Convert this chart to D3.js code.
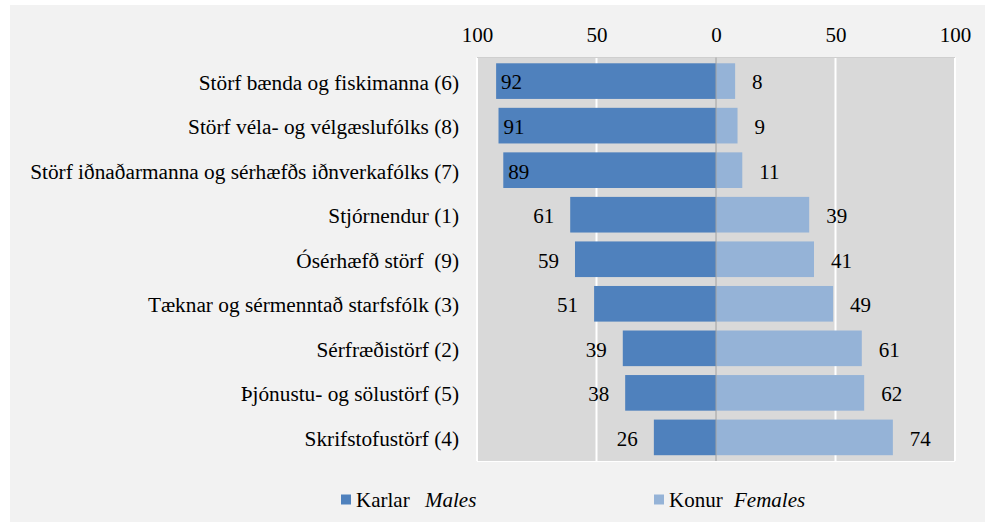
<!DOCTYPE html>
<html>
<head>
<meta charset="utf-8">
<script src="https://cdn.jsdelivr.net/npm/d3@7"></script>
<style>
  body { margin: 0; background: #fff; }
  svg { display: block; }
  svg text { font-family: 'Liberation Serif', 'Times New Roman', serif; fill: #000; white-space: pre; }
</style>
</head>
<body>
<main></main>
<script>
const categories = [
    'Störf bænda og fiskimanna (6)',
    'Störf véla- og vélgæslufólks (8)',
    'Störf iðnaðarmanna og sérhæfðs iðnverkafólks (7)',
    'Stjórnendur (1)',
    'Ósérhæfð störf  (9)',
    'Tæknar og sérmenntað starfsfólk (3)',
    'Sérfræðistörf (2)',
    'Þjónustu- og sölustörf (5)',
    'Skrifstofustörf (4)'
];
const males = [92, 91, 89, 61, 59, 51, 39, 38, 26];
const females = [8, 9, 11, 39, 41, 49, 61, 62, 74];
const ticks = [-100, -50, 0, 50, 100];

const w = 989;
const h = 524;
const plotLeft = 477, plotRight = 955, plotTop = 57.5, plotBottom = 461;
const maleColor = '#4f81bd';
const femaleColor = '#95b3d7';

const svg = d3.select('main').append('svg').attr('width', w).attr('height', h);

svg.append('rect')
    .attr('x', 10).attr('y', 5)
    .attr('width', 975).attr('height', 517)
    .attr('fill', '#f2f2f2');

const xScale = d3.scaleLinear().domain([-100, 100]).range([plotLeft, plotRight]);
const yScale = d3.scaleBand().domain(categories).range([plotTop, plotBottom]).paddingInner(0.2).paddingOuter(0.13);

svg.append('rect')
    .attr('x', plotLeft).attr('y', plotTop)
    .attr('width', plotRight - plotLeft).attr('height', plotBottom - plotTop)
    .attr('fill', '#d9d9d9');

// gridlines
svg.append('g').selectAll('line').data(ticks.filter(t => t !== 0)).enter().append('line')
    .attr('x1', d => xScale(d)).attr('x2', d => xScale(d))
    .attr('y1', plotTop).attr('y2', plotBottom)
    .attr('stroke', '#fff').attr('stroke-width', 2);

svg.append('line')
    .attr('x1', plotLeft).attr('x2', plotRight)
    .attr('y1', plotBottom + 0.5).attr('y2', plotBottom + 0.5)
    .attr('stroke', '#fff').attr('stroke-width', 1);

svg.append('line')
    .attr('x1', plotLeft).attr('x2', plotRight)
    .attr('y1', plotTop).attr('y2', plotTop)
    .attr('stroke', '#cfcfcf').attr('stroke-width', 1);

// top axis
const xAxis = d3.axisTop(xScale).tickValues(ticks).tickFormat(d => Math.abs(d)).tickSize(0).tickPadding(0);
const ax = svg.append('g')
    .attr('id', 'x-axis')
    .attr('transform', `translate(0, 41.5)`)
    .call(xAxis);
ax.attr('font-family', null);
ax.select('.domain').remove();
ax.selectAll('text').attr('font-size', 21).attr('fill', '#000');

// bars
const rows = categories.map((c, i) => ({ c, m: males[i], f: females[i] }));

svg.selectAll('rect.male').data(rows).enter().append('rect')
    .attr('class', 'male')
    .attr('x', d => xScale(-d.m))
    .attr('y', d => yScale(d.c))
    .attr('width', d => xScale(0) - xScale(-d.m))
    .attr('height', yScale.bandwidth())
    .attr('fill', maleColor);

svg.selectAll('rect.female').data(rows).enter().append('rect')
    .attr('class', 'female')
    .attr('x', xScale(0))
    .attr('y', d => yScale(d.c))
    .attr('width', d => xScale(d.f) - xScale(0))
    .attr('height', yScale.bandwidth())
    .attr('fill', femaleColor);

svg.append('line')
    .attr('x1', xScale(0)).attr('x2', xScale(0))
    .attr('y1', plotTop).attr('y2', plotBottom)
    .attr('stroke', '#a0a0a0').attr('stroke-width', 1);

// value labels
const midY = d => yScale(d.c) + yScale.bandwidth() / 2 + 1;

svg.selectAll('text.mlab').data(rows).enter().append('text')
    .attr('class', 'mlab')
    .attr('x', d => d.m > 80 ? xScale(-d.m) + 5 : xScale(-d.m) - 16)
    .attr('y', midY)
    .attr('dy', '0.35em')
    .attr('text-anchor', d => d.m > 80 ? 'start' : 'end')
    .attr('font-size', 21)
    .text(d => d.m);

svg.selectAll('text.flab').data(rows).enter().append('text')
    .attr('class', 'flab')
    .attr('x', d => xScale(d.f) + 17)
    .attr('y', midY)
    .attr('dy', '0.35em')
    .attr('font-size', 21)
    .text(d => d.f);

// category labels
svg.selectAll('text.cat').data(rows).enter().append('text')
    .attr('class', 'cat')
    .attr('x', 459)
    .attr('y', midY)
    .attr('dy', '0.35em')
    .attr('text-anchor', 'end')
    .attr('font-size', 21.3)
    .text(d => d.c);

// legend
const legend = [
    { name: 'Karlar', en: 'Males', color: maleColor, x: 341, ex: 425 },
    { name: 'Konur', en: 'Females', color: femaleColor, x: 654, ex: 734 }
];
const lg = svg.append('g').selectAll('g').data(legend).enter().append('g');
lg.append('rect')
    .attr('x', d => d.x).attr('y', 494.5)
    .attr('width', 10).attr('height', 10)
    .attr('fill', d => d.color);
lg.append('text')
    .attr('x', d => d.x + 15).attr('y', 506.5)
    .attr('font-size', 21)
    .text(d => d.name);
lg.append('text')
    .attr('x', d => d.ex).attr('y', 506.5)
    .attr('font-size', 21)
    .attr('font-style', 'italic')
    .text(d => d.en);
</script>
</body>
</html>
